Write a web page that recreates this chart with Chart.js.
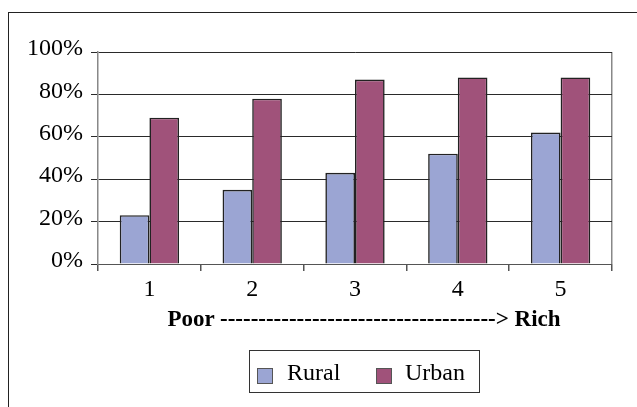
<!DOCTYPE html>
<html>
<head>
<meta charset="utf-8">
<script src="https://cdn.jsdelivr.net/npm/chart.js@4"></script>
<style>
    html, body { margin: 0; padding: 0; background: #fff; }
    #wrap { position: relative; width: 637px; height: 407px; overflow: hidden; font-family: "Liberation Serif", serif; color: #000; }
    #frame { position: absolute; left: 8px; top: 12px; width: 660px; height: 420px; border-top: 1px solid #222; border-left: 1px solid #222; }
    #chart { position: absolute; left: 0; top: 0; }
    #xtitle { position: absolute; left: 0; width: 728px; top: 306px; text-align: center; font-weight: bold; font-size: 23px; white-space: nowrap; }
    #legend { position: absolute; left: 249px; top: 350px; width: 229px; height: 41px; border: 1px solid #333; }
    .sw { position: absolute; top: 17px; width: 14px; height: 14px; border: 1.5px solid #555; }
    .lbl { position: absolute; top: 8px; font-size: 24px; line-height: 26px; }
</style>
</head>
<body>
<div id="wrap">
    <div id="frame"></div>
    <canvas id="chart" width="637" height="407"></canvas>
    <div id="xtitle">Poor ------------------------------------&gt; Rich</div>
    <div id="legend"></div>
</div>
<script>
    // ===== 데이터 =====
    const categories = ['1', '2', '3', '4', '5'];
    const seriesNames = ['Rural', 'Urban'];
    const rural = [23, 35, 43, 52, 62];
    const urban = [69, 78, 87, 88, 88];
    const yTicks = [0, 20, 40, 60, 80, 100];

    const colors = ['#9BA5D3', '#A0527A'];

    // ===== 범례 (HTML) =====
    const elLegend = document.getElementById('legend');
    const swatchX = [7, 126];
    const labelX = [37, 155];
    seriesNames.forEach(function (name, i) {
        elLegend.insertAdjacentHTML('beforeend',
            '<span class="sw" style="left:' + swatchX[i] + 'px;background:' + colors[i] + '"></span>' +
            '<span class="lbl" style="left:' + labelX[i] + 'px">' + name + '</span>');
    });

    const serif = { family: '"Liberation Serif", serif', size: 24 };

    new Chart(document.getElementById('chart'), {
        type: 'bar',
        data: {
            labels: categories,
            datasets: [
                { label: seriesNames[0], data: rural, backgroundColor: colors[0] },
                { label: seriesNames[1], data: urban, backgroundColor: colors[1] }
            ]
        },
        options: {
            responsive: false,
            animation: false,
            devicePixelRatio: 1,
            layout: { padding: { top: 52, right: 25, left: 0, bottom: 0 } },
            datasets: {
                bar: {
                    categoryPercentage: 0.577,
                    barPercentage: 1.0,
                    borderColor: '#222',
                    borderWidth: 1.6
                }
            },
            plugins: {
                legend: { display: false },
                tooltip: { enabled: false }
            },
            scales: {
                x: {
                    offset: true,
                    afterFit: function (scale) { scale.height = 143; },
                    grid: {
                        offset: true,
                        drawOnChartArea: true,
                        color: function (ctx) { return ctx.type === 'scale' ? '#888' : 'rgba(0,0,0,0)'; },
                        tickColor: '#555',
                        tickLength: 7,
                        lineWidth: 1.5
                    },
                    border: { color: '#555', width: 1 },
                    ticks: { color: '#000', font: serif, padding: 4 }
                },
                y: {
                    min: 0,
                    max: 100,
                    afterFit: function (scale) { scale.width = 98; },
                    afterBuildTicks: function (scale) {
                        scale.ticks = yTicks.map(function (v) { return { value: v }; });
                    },
                    grid: { color: '#2a2a2a', tickColor: '#2a2a2a', tickLength: 7, lineWidth: 1 },
                    border: { color: '#888', width: 1.5 },
                    ticks: {
                        color: '#000',
                        font: serif,
                        padding: 8,
                        labelOffset: -3,
                        callback: function (v) { return v + '%'; }
                    }
                }
            }
        }
    });
</script>
</body>
</html>
